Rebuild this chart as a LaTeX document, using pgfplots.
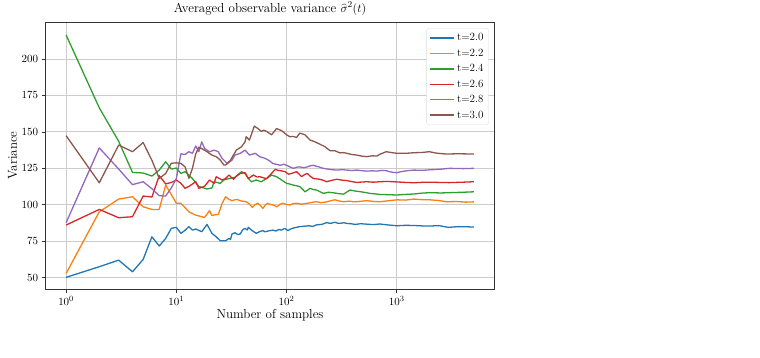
\documentclass[border=0pt]{standalone}
\usepackage{pgfplots}
\pgfplotsset{compat=1.18}
\usepackage{pgfplotstable}

\definecolor{c0}{HTML}{1F77B4}
\definecolor{c1}{HTML}{FF7F0E}
\definecolor{c2}{HTML}{2CA02C}
\definecolor{c3}{HTML}{D62728}
\definecolor{c4}{HTML}{9467BD}
\definecolor{c5}{HTML}{8C564B}
\definecolor{legframe}{HTML}{DCDCDC}

% running average of the variance estimate against sample count
\pgfplotstableread{
n v
1 50.2
2 57.5
3 62.0
4 54.0
5 62.5
6 78.0
7 71.7
8 76.9
9 83.8
10 84.5
11 80.4
12 82.5
13 85.0
14 82.6
15 83.4
17 81.5
19 86.5
21 80.4
23 78.0
25 75.3
28 75.3
30 76.9
31 76.2
32 80.0
34 80.8
36 79.6
38 80.0
40 82.9
42 83.8
44 82.7
45 84.5
48 82.6
53 80.4
57 81.6
61 82.3
64 81.4
68 82.0
75 82.6
80 82.0
85 83.0
90 82.6
96 83.8
103 82.3
109 83.4
115 84.0
124 84.6
132 85.0
145 85.3
160 85.6
172 85.1
187 86.2
210 86.6
231 87.8
250 87.2
274 88.0
290 87.4
310 87.3
330 87.7
352 87.2
390 86.9
420 86.5
470 87.0
532 86.7
610 86.4
700 86.8
820 86.2
1000 85.6
1200 85.9
1400 85.8
1700 85.5
2000 85.4
2400 85.7
2930 84.5
3600 85.0
4300 84.9
5000 84.7
}\tA

\pgfplotstableread{
n v
1 52.9
2 95.2
3 103.9
4 105.5
5 98.6
6 96.8
7 96.8
8 113.5
9 107.0
10 101.0
11 101.0
12 98.0
13 95.2
15 92.9
18 91.3
20 95.9
21 92.7
24 93.4
25 97.0
26 101.0
28 105.5
30 103.7
32 102.8
35 103.7
39 102.6
43 102.1
46 100.5
49 98.2
52 100.2
55 101.0
58 99.4
61 97.5
64 99.8
67 101.0
71 100.2
75 99.9
82 98.6
87 100.3
93 101.0
100 100.2
107 99.9
115 100.8
123 101.0
137 100.4
153 101.0
170 101.6
187 102.1
205 101.4
231 102.0
250 102.7
274 103.4
300 102.6
330 102.1
370 102.5
410 102.0
470 102.4
532 102.8
610 102.3
700 102.1
850 102.8
1000 103.4
1200 103.2
1430 103.9
1700 103.5
2000 103.4
2400 102.9
2830 102.1
3500 102.2
4200 101.8
5000 102.0
}\tB

\pgfplotstableread{
n v
1 216.5
2 166.5
3 143.5
4 122.2
5 121.8
6 119.7
7 123.8
8 129.5
9 124.5
10 125.2
11 121.5
12 122.7
14 118.0
16 112.6
19 110.8
21 111.5
22 115.8
25 114.7
27 117.0
30 118.0
34 118.8
36 120.4
39 122.7
42 121.5
45 118.0
48 115.8
53 117.0
59 115.8
66 118.0
73 120.4
81 119.3
90 117.0
100 114.7
107 114.2
115 113.5
124 113.0
132 112.4
140 110.6
147 108.9
155 110.0
163 111.3
175 110.4
187 110.1
200 109.0
216 107.8
240 108.6
266 108.2
300 107.6
329 107.3
350 108.6
376 110.1
420 109.4
463 109.0
520 108.4
570 107.8
630 107.5
700 107.1
850 106.9
1000 106.7
1200 107.1
1430 107.4
1700 108.0
2000 108.3
2500 108.1
3000 108.3
4000 108.6
5000 108.9
}\tC

\pgfplotstableread{
n v
1 86.1
2 96.8
3 91.1
4 91.8
5 106.0
6 105.3
7 120.0
8 114.3
9 115.3
10 117.0
11 114.7
12 111.3
13 112.6
15 115.8
16 111.3
18 112.6
20 117.0
22 114.7
23 119.2
26 117.0
28 118.0
30 120.4
33 117.5
35 119.6
38 121.5
42 122.0
45 118.0
50 120.4
54 119.0
57 119.3
62 118.4
66 118.0
73 121.5
79 124.3
84 123.6
88 123.4
97 122.7
104 121.0
111 121.5
123 122.7
130 121.0
137 119.3
145 120.6
154 121.5
165 119.4
175 118.0
200 117.5
215 116.8
231 115.8
255 116.7
285 117.5
320 116.9
352 116.6
390 115.9
433 115.3
480 115.6
533 115.8
610 115.5
700 115.8
820 116.0
936 115.8
1150 115.4
1430 115.1
1700 115.4
2000 115.5
2500 115.3
3000 115.2
4000 115.5
5000 115.8
}\tD

\pgfplotstableread{
n v
1 87.7
2 139.0
3 124.5
4 113.8
5 115.8
6 111.0
7 106.2
8 106.0
9 111.5
10 118.0
11 135.0
12 134.5
13 136.4
14 135.3
15 140.3
16 136.4
17 143.2
18 138.7
20 136.4
22 137.5
24 136.4
26 131.8
29 128.3
32 130.6
34 134.1
38 135.3
42 137.5
46 134.1
52 135.3
57 133.0
64 131.8
70 130.2
75 128.3
82 127.6
88 127.1
94 127.8
100 127.1
107 126.0
115 125.0
124 125.8
132 126.0
143 125.4
154 126.0
165 126.8
175 127.1
186 126.4
196 126.0
206 125.4
216 125.0
230 124.6
246 124.3
265 124.0
285 123.8
320 124.1
352 123.8
390 123.5
433 123.8
480 123.4
533 123.1
600 123.3
660 123.1
730 123.6
800 123.4
870 122.6
936 122.2
1000 122.0
1100 122.8
1250 123.4
1430 123.8
1700 123.6
2000 124.0
2500 124.4
3000 125.0
4000 124.8
5000 125.0
}\tE

\pgfplotstableread{
n v
1 147.4
2 115.1
3 141.0
4 136.4
5 142.7
6 130.5
7 118.1
8 121.5
9 128.4
10 128.8
11 128.4
12 126.0
13 118.1
14 125.0
15 135.0
16 139.5
17 138.5
19 136.4
21 134.1
23 133.0
25 130.7
27 127.3
28 127.3
31 130.6
35 137.5
39 139.8
42 143.2
43 146.7
46 144.4
51 154.0
55 152.3
59 150.3
62 151.2
66 150.3
73 148.0
77 150.1
81 152.3
90 150.9
100 148.0
107 146.7
115 146.9
123 146.2
132 149.2
147 148.0
163 144.4
178 143.4
194 142.1
210 140.8
223 139.8
248 137.1
274 137.1
304 135.6
330 135.8
352 135.3
390 134.5
433 134.1
480 133.4
532 133.0
600 133.6
660 133.4
700 134.6
800 136.4
900 135.8
1000 135.3
1200 135.3
1430 135.7
1700 135.9
1970 136.4
2300 135.4
2800 134.8
3600 135.0
5000 134.8
}\tF

\begin{document}
\begin{tikzpicture}
\path[use as bounding box] (-45.7pt,-68pt) rectangle (714.3pt,289pt);
\begin{axis}[
  scale only axis,
  width=448.6pt, height=266.7pt,
  xmode=log, log basis x=10,
  xmin=0.653, xmax=7660,
  ymin=42.2, ymax=225.2,
  xtick={1,10,100,1000},
  ytick={50,75,100,125,150,175,200},
  tick pos=left,
  tick align=outside,
  major tick length=4pt,
  minor tick length=2.5pt,
  every tick/.style={black!80, line width=0.7pt},
  axis line style={black!80, line width=0.8pt},
  xmajorgrids, ymajorgrids,
  major grid style={gray!40, line width=0.8pt},
  tick label style={font=\fontsize{11}{13}\selectfont},
  title={Averaged observable variance $\widehat{\sigma}^2(t)$},
  title style={font=\fontsize{13}{15}\selectfont, at={(0.5,1)}, anchor=base, yshift=4pt},
  xlabel={Number of samples},
  xlabel style={font=\fontsize{13}{15}\selectfont, at={(0.5,0)}, anchor=base, yshift=-29pt},
  ylabel={Variance},
  ylabel style={font=\fontsize{13}{15}\selectfont, at={(axis description cs:-0.064,0.5)}, anchor=base},
  legend cell align=left,
  legend style={at={(0.9875,0.9775)}, anchor=north east,
    draw=legframe, fill=white,
    rounded corners=2pt, font=\fontsize{11}{13}\selectfont,
    inner xsep=3pt, inner ysep=3pt, row sep=2.6pt},
  legend image code/.code={%
    \draw[#1, line width=1.5pt] (0pt,0pt) -- (24pt,0pt);},
  every axis plot/.append style={line width=1.3pt, line join=round},
]
\addplot[color=c0, draw=c0] table[x=n,y=v] {\tA};
\addlegendentry{t=2.0}
\addplot[color=c1, draw=c1] table[x=n,y=v] {\tB};
\addlegendentry{t=2.2}
\addplot[color=c2, draw=c2] table[x=n,y=v] {\tC};
\addlegendentry{t=2.4}
\addplot[color=c3, draw=c3] table[x=n,y=v] {\tD};
\addlegendentry{t=2.6}
\addplot[color=c4, draw=c4] table[x=n,y=v] {\tE};
\addlegendentry{t=2.8}
\addplot[color=c5, draw=c5] table[x=n,y=v] {\tF};
\addlegendentry{t=3.0}
\end{axis}
\end{tikzpicture}
\end{document}
